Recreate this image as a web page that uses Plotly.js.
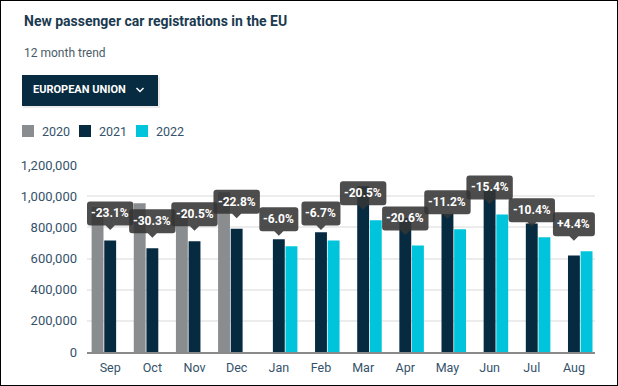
<!DOCTYPE html>
<html>
<head>
<meta charset="utf-8">
<script src="https://cdn.plot.ly/plotly-3.0.1.min.js"></script>
<style>
  html, body { margin: 0; padding: 0; background: #fff; }
  #chart { width: 616px; height: 384px; border: 1px solid #000; }
</style>
</head>
<body>
<div id="chart"></div>
<script>
const months = ['Sep','Oct','Nov','Dec','Jan','Feb','Mar','Apr','May','Jun','Jul','Aug'];
const years = ['2020','2021','2022'];
const v2020 = [931000, 954000, 894000, 1025000, null, null, null, null, null, null, null, null];
const v2021 = [716000, 665000, 710000, 791000, 723000, 768000, 1063000, 860000, 886000, 1044000, 825000, 620000];
const v2022 = [null, null, null, null, 679000, 716000, 845000, 684000, 787000, 883000, 736000, 647000];
const changes = ['-23.1%','-30.3%','-20.5%','-22.8%','-6.0%','-6.7%','-20.5%','-20.6%','-11.2%','-15.4%','-10.4%','+4.4%'];
const yTicks = [0, 200000, 400000, 600000, 800000, 1000000, 1200000];

const colors = ['#8a8d8f', '#062b40', '#00c4dc'];
const series = [v2020, v2021, v2022];

const W = 616, H = 384, L = 86, R = 22, T = 164, B = 33;
const PW = W - L - R, PH = H - T - B;
const px = x => (x - 1 - L) / PW;
const py = y => (H - B - (y - 1)) / PH;

const FONT = 'Roboto, "Open Sans", sans-serif';
const TXT = '#34526a';
const BOX = 'rgba(52,52,52,0.88)';

const traces = years.map((yr, i) => ({
  type: 'bar', name: yr, x: months, y: series[i],
  marker: { color: colors[i] }, hoverinfo: 'skip', showlegend: false
}));

const annotations = [];
const shapes = [];

function calloutPath(w) {
  const h0 = 15, h1 = 39, r = 3, a = w / 2;
  return `M ${-a + r},${h0} L -4.5,${h0} L 0,10.5 L 4.5,${h0} L ${a - r},${h0} ` +
    `Q ${a},${h0} ${a},${h0 + r} L ${a},${h1 - r} Q ${a},${h1} ${a - r},${h1} ` +
    `L ${-a + r},${h1} Q ${-a},${h1} ${-a},${h1 - r} L ${-a},${h0 + r} Q ${-a},${h0} ${-a + r},${h0} Z`;
}

months.forEach((m, i) => {
  const val = v2022[i] != null ? v2022[i] : v2021[i];
  const w = 7.4 * changes[i].length + 2 + (changes[i][0] === '+' ? 3 : 0);
  shapes.push({
    type: 'path', xref: 'x', yref: 'y', xsizemode: 'pixel', ysizemode: 'pixel',
    xanchor: i, yanchor: val, path: calloutPath(w),
    fillcolor: BOX, line: { width: 0 }
  });
  annotations.push({
    x: m, y: val, xref: 'x', yref: 'y', text: '<b>' + changes[i] + '</b>',
    showarrow: false, yanchor: 'middle', yshift: 27,
    font: { family: FONT, size: 12, color: '#ffffff' }
  });
});

annotations.push({
  xref: 'paper', yref: 'paper', x: px(22), y: py(21), xanchor: 'left', yanchor: 'middle',
  text: '<b>New passenger car registrations in the EU</b>', showarrow: false,
  font: { family: FONT, size: 14, color: '#1b3a50' }
});
annotations.push({
  xref: 'paper', yref: 'paper', x: px(22), y: py(53), xanchor: 'left', yanchor: 'middle',
  text: '12 month trend', showarrow: false,
  font: { family: FONT, size: 12, color: '#4a5b68' }
});

shapes.push({ type: 'rect', xref: 'paper', yref: 'paper', x0: px(23), x1: px(160), y0: py(77), y1: py(108),
  fillcolor: 'rgba(0,0,0,0.08)', line: { width: 0 }, layer: 'above' });
shapes.push({ type: 'rect', xref: 'paper', yref: 'paper', x0: px(22), x1: px(158), y0: py(75), y1: py(106),
  fillcolor: '#072b40', line: { width: 0 }, layer: 'above' });
annotations.push({
  xref: 'paper', yref: 'paper', x: px(31), y: py(90), xanchor: 'left', yanchor: 'middle',
  text: '<b>EUROPEAN UNION</b>', showarrow: false,
  font: { family: FONT, size: 11, color: '#ffffff' }
});
shapes.push({ type: 'path', xref: 'paper', yref: 'paper',
  path: `M ${px(136.5)},${py(88)} L ${px(140)},${py(91.5)} L ${px(143.5)},${py(88)}`,
  line: { color: '#ffffff', width: 1.5 }, layer: 'above' });

const legX = [22, 79, 136];
years.forEach((yr, i) => {
  shapes.push({ type: 'rect', xref: 'paper', yref: 'paper',
    x0: px(legX[i]), x1: px(legX[i] + 12), y0: py(125), y1: py(137),
    fillcolor: colors[i], line: { width: 0 }, layer: 'above' });
  annotations.push({ xref: 'paper', yref: 'paper', x: px(legX[i] + 18), y: py(131.5),
    xanchor: 'left', yanchor: 'middle', text: yr, showarrow: false,
    font: { family: FONT, size: 12.5, color: TXT } });
});

const layout = {
  width: W, height: H,
  margin: { l: L, r: R, t: T, b: B, pad: 0 },
  paper_bgcolor: '#ffffff', plot_bgcolor: '#ffffff',
  barmode: 'group', bargap: 0.1, bargroupgap: 0.06,
  showlegend: false,
  xaxis: {
    type: 'category', categoryorder: 'array', categoryarray: months,
    showgrid: false, showline: true, linecolor: '#8a8a8a', linewidth: 2,
    ticks: '', ticklabelstandoff: 3, automargin: false,
    tickfont: { family: FONT, size: 12.5, color: TXT }, fixedrange: true
  },
  yaxis: {
    range: [0, 1200000], tickvals: yTicks, tickformat: ',d',
    showgrid: true, gridcolor: '#ececec', gridwidth: 2, zeroline: false,
    ticks: '', ticklabelstandoff: 9, automargin: false,
    tickfont: { family: FONT, size: 13, color: TXT }, fixedrange: true
  },
  annotations: annotations,
  shapes: shapes
};

Plotly.newPlot('chart', traces, layout, { displayModeBar: false, staticPlot: true });
</script>
</body>
</html>
